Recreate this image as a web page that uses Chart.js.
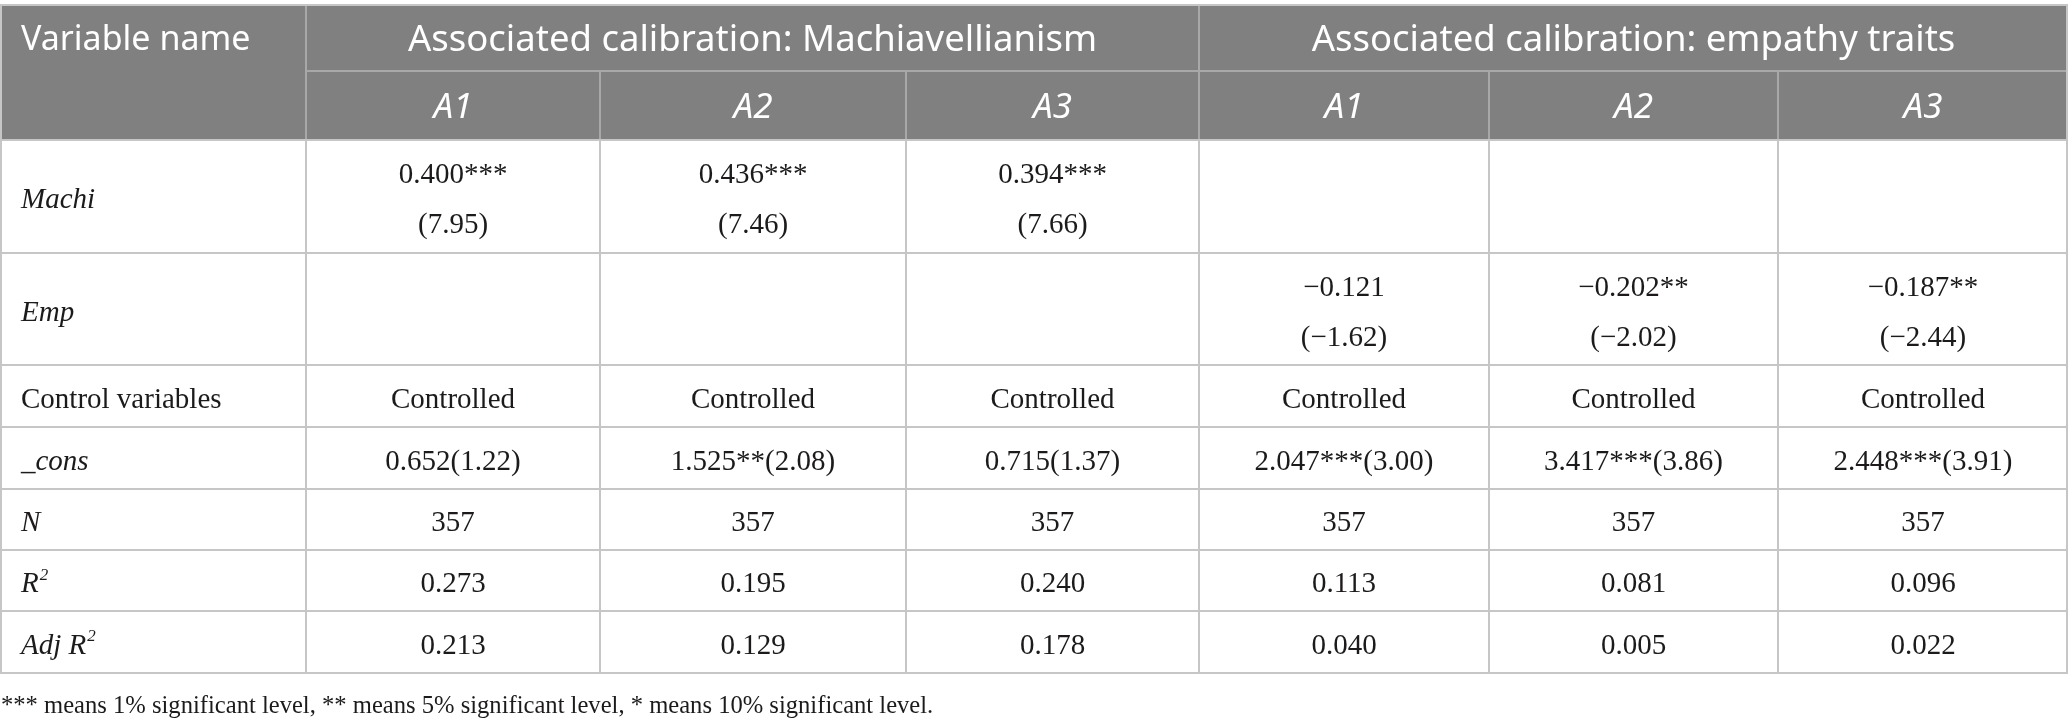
<!DOCTYPE html>
<html>
<head>
<meta charset="utf-8">
<script src="https://cdn.jsdelivr.net/npm/chart.js@4.4.1/dist/chart.umd.min.js"></script>
<style>
  html, body { margin: 0; padding: 0; background: #fff; }
  canvas { display: block; }
</style>
</head>
<body>
<canvas id="tbl" width="2068" height="728"></canvas>
<script>
// table content
const groups = ['Associated calibration: Machiavellianism', 'Associated calibration: empathy traits'];
const models = ['A1', 'A2', 'A3', 'A1', 'A2', 'A3'];
const rowNames = ['Machi', 'Emp', 'Control variables', '_cons', 'N', 'R2', 'Adj R2'];
const machiCoef = ['0.400***', '0.436***', '0.394***', '', '', ''];
const machiT = ['(7.95)', '(7.46)', '(7.66)', '', '', ''];
const empCoef = ['', '', '', '−0.121', '−0.202**', '−0.187**'];
const empT = ['', '', '', '(−1.62)', '(−2.02)', '(−2.44)'];
const controls = ['Controlled', 'Controlled', 'Controlled', 'Controlled', 'Controlled', 'Controlled'];
const consVals = ['0.652(1.22)', '1.525**(2.08)', '0.715(1.37)', '2.047***(3.00)', '3.417***(3.86)', '2.448***(3.91)'];
const nVals = [357, 357, 357, 357, 357, 357];
const r2Vals = [0.273, 0.195, 0.240, 0.113, 0.081, 0.096];
const adjR2Vals = [0.213, 0.129, 0.178, 0.040, 0.005, 0.022];
const footnote = '*** means 1% significant level, ** means 5% significant level, * means 10% significant level.';

// layout (scale units = px of the 2068x728 page)
const colWidths = [306, 294, 306, 293, 290, 289, 290];
const rowHeights = [66, 69, 113, 112, 62, 62, 61, 61, 62];
const tableTop = 5;

const HEAD_BG = '#7f807f';
const HEAD_LINE = '#a8a8a8';
const BODY_LINE = '#c6c6c6';
const TEXT = '#1c1a1b';
const SANS = '"Noto Sans", sans-serif';
const SERIF = '"Liberation Serif", "Times New Roman", serif';

const colEdges = [0];
colWidths.forEach(w => colEdges.push(colEdges[colEdges.length - 1] + w));
const rowEdges = [tableTop];
rowHeights.forEach(h => rowEdges.push(rowEdges[rowEdges.length - 1] + h));

const bodyRows = [
  { name: rowNames[0], italic: true, lines: [machiCoef, machiT] },
  { name: rowNames[1], italic: true, lines: [empCoef, empT] },
  { name: rowNames[2], italic: false, lines: [controls] },
  { name: rowNames[3], italic: true, lines: [consVals] },
  { name: rowNames[4], italic: true, lines: [nVals.map(String)] },
  { name: rowNames[5], italic: true, lines: [r2Vals.map(v => v.toFixed(3))] },
  { name: rowNames[6], italic: true, lines: [adjR2Vals.map(v => v.toFixed(3))] }
];

function hline(ctx, x0, x1, y, color) {
  ctx.strokeStyle = color;
  ctx.lineWidth = 2;
  ctx.beginPath();
  ctx.moveTo(x0, y);
  ctx.lineTo(x1, y);
  ctx.stroke();
}
function vline(ctx, x, y0, y1, color) {
  ctx.strokeStyle = color;
  ctx.lineWidth = 2;
  ctx.beginPath();
  ctx.moveTo(x, y0);
  ctx.lineTo(x, y1);
  ctx.stroke();
}

// name cell, R2 gets a superscript 2
function drawName(ctx, text, x, y, italic) {
  ctx.font = (italic ? 'italic ' : '') + '29px ' + SERIF;
  ctx.textAlign = 'left';
  if (text.endsWith('R2')) {
    const base = text.slice(0, -1);
    ctx.fillText(base, x, y);
    const w = ctx.measureText(base).width;
    ctx.font = (italic ? 'italic ' : '') + '17px ' + SERIF;
    ctx.fillText('2', x + w + 1, y - 9);
  } else {
    ctx.fillText(text, x, y);
  }
}

const tablePlugin = {
  id: 'tablePlugin',
  beforeDatasetsDraw(chart) {
    const ctx = chart.ctx;
    const xs = chart.scales.x, ys = chart.scales.y;
    const X = v => xs.getPixelForValue(v);
    const Y = v => ys.getPixelForValue(v);
    const right = X(colEdges[colEdges.length - 1]);
    ctx.save();

    // header background
    ctx.fillStyle = HEAD_BG;
    ctx.fillRect(X(0), Y(rowEdges[0]), right - X(0), Y(rowEdges[2]) - Y(rowEdges[0]));

    // header lines
    hline(ctx, X(colEdges[1]), right, Y(rowEdges[1]), HEAD_LINE);
    vline(ctx, X(colEdges[1]), Y(rowEdges[0]), Y(rowEdges[2]), HEAD_LINE);
    vline(ctx, X(colEdges[4]), Y(rowEdges[0]), Y(rowEdges[2]), HEAD_LINE);
    [2, 3, 5, 6].forEach(c => vline(ctx, X(colEdges[c]), Y(rowEdges[1]), Y(rowEdges[2]), HEAD_LINE));

    // body lines
    for (let r = 2; r < rowEdges.length; r++) hline(ctx, X(0), right, Y(rowEdges[r]), BODY_LINE);
    for (let c = 1; c < colEdges.length - 1; c++) vline(ctx, X(colEdges[c]), Y(rowEdges[2]), Y(rowEdges[rowEdges.length - 1]), BODY_LINE);
    hline(ctx, X(0), right, Y(rowEdges[0]), BODY_LINE);
    vline(ctx, X(0) + 1, Y(rowEdges[0]), Y(rowEdges[rowEdges.length - 1]), BODY_LINE);
    vline(ctx, right - 1, Y(rowEdges[0]), Y(rowEdges[rowEdges.length - 1]), BODY_LINE);

    // header text
    ctx.fillStyle = '#ffffff';
    ctx.textBaseline = 'middle';
    const h1 = (Y(rowEdges[0]) + Y(rowEdges[1])) / 2 + 3;
    const h2 = (Y(rowEdges[1]) + Y(rowEdges[2])) / 2 + 3;
    ctx.font = '34px ' + SANS;
    ctx.textAlign = 'left';
    ctx.fillText('Variable name', X(colEdges[0]) + 21, h1 - 1);
    ctx.textAlign = 'center';
    ctx.font = '36.5px ' + SANS;
    ctx.fillText(groups[0], (X(colEdges[1]) + X(colEdges[4])) / 2, h1);
    ctx.fillText(groups[1], (X(colEdges[4]) + X(colEdges[7])) / 2, h1);
    ctx.font = 'italic 35px ' + SANS;
    models.forEach((m, i) => {
      ctx.fillText(m, (X(colEdges[i + 1]) + X(colEdges[i + 2])) / 2, h2);
    });

    // body text
    ctx.fillStyle = TEXT;
    bodyRows.forEach((row, r) => {
      const top = Y(rowEdges[r + 2]), bot = Y(rowEdges[r + 3]);
      const mid = (top + bot) / 2 + 4;
      drawName(ctx, row.name, X(0) + 21, mid, row.italic);
      ctx.font = '29px ' + SERIF;
      ctx.textAlign = 'center';
      const n = row.lines.length;
      row.lines.forEach((vals, li) => {
        const y = n === 1 ? mid : mid + (li === 0 ? -25 : 25);
        vals.forEach((v, i) => {
          if (!v) return;
          ctx.fillText(v, (X(colEdges[i + 1]) + X(colEdges[i + 2])) / 2, y);
        });
      });
    });

    // footnote
    ctx.font = '24.6px ' + SERIF;
    ctx.textAlign = 'left';
    ctx.fillText(footnote, X(0) + 1, Y(rowEdges[rowEdges.length - 1]) + 34);
    ctx.restore();
  }
};

new Chart(document.getElementById('tbl'), {
  type: 'scatter',
  data: { datasets: [{ data: [] }] },
  options: {
    responsive: false,
    animation: false,
    devicePixelRatio: 1,
    layout: { padding: 0 },
    plugins: { legend: { display: false }, tooltip: { enabled: false } },
    scales: {
      x: { type: 'linear', display: false, min: 0, max: 2068 },
      y: { type: 'linear', display: false, min: 0, max: 728, reverse: true }
    }
  },
  plugins: [tablePlugin]
});
</script>
</body>
</html>
